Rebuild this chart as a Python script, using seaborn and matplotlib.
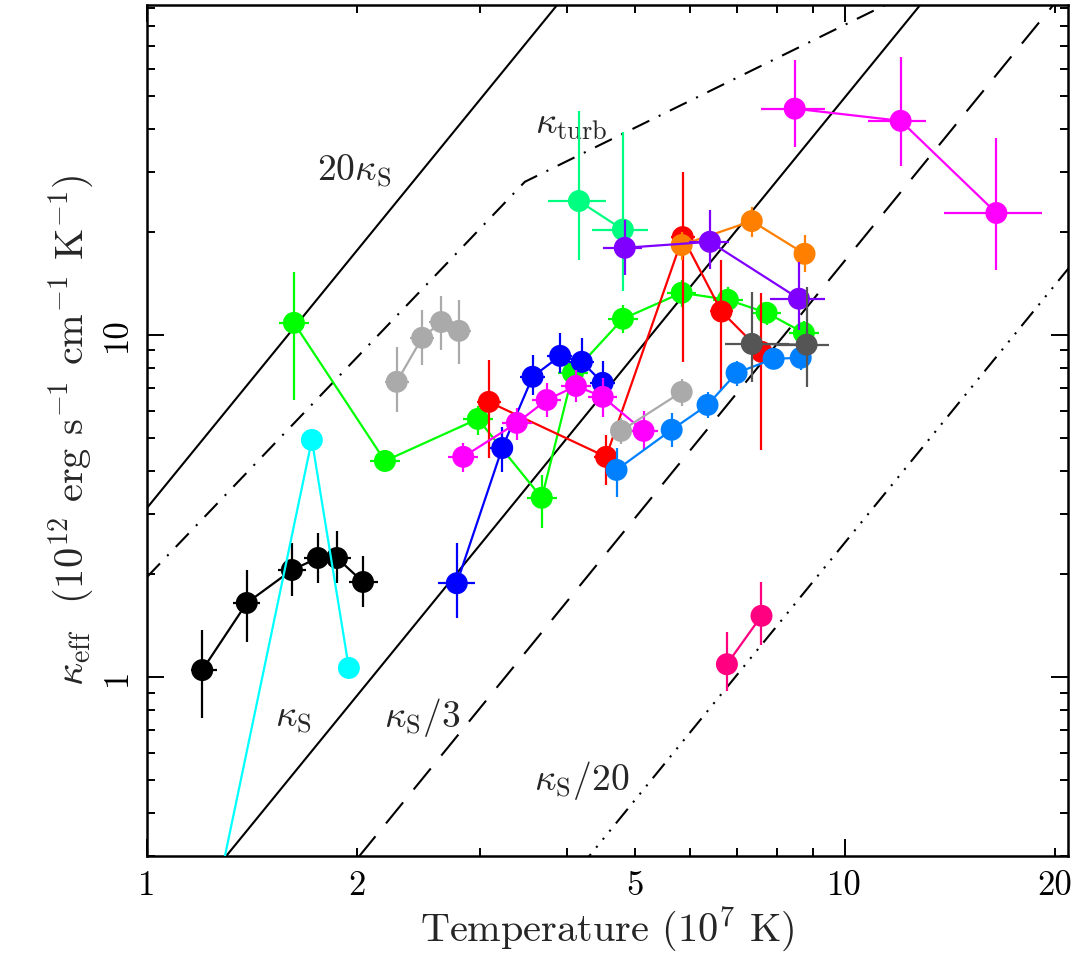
import numpy as np
import pandas as pd
import matplotlib
matplotlib.use("Agg")
import matplotlib.pyplot as plt
import matplotlib.ticker as mticker
import seaborn as sns

# ---------------- data (T in 1e7 K, kappa in 1e12 cgs) ----------------
black_T    = [1.20, 1.39, 1.613, 1.758, 1.872, 2.04]
black_Tlo  = [1.156, 1.33, 1.54, 1.68, 1.79, 1.95]
black_Thi  = [1.26, 1.45, 1.69, 1.84, 1.96, 2.14]
black_k    = [1.048, 1.646, 2.055, 2.228, 2.228, 1.896]
black_klo  = [0.759, 1.266, 1.725, 1.88, 1.88, 1.60]
black_khi  = [1.372, 2.055, 2.46, 2.64, 2.67, 2.26]

cyan_T     = [1.25, 1.723, 1.947]
cyan_k     = [0.215, 4.93, 1.063]

green_T    = [1.624, 2.193, 2.98, 3.68, 4.08, 4.81, 5.84, 6.80, 7.73, 8.74]
green_k    = [10.84, 4.28, 5.68, 3.34, 7.74, 11.14, 13.27, 12.66, 11.6, 10.13]
green_klo  = [6.45, 4.28, 5.1, 2.73, 7.2, 10.1, 12.1, 11.6, 10.7, 9.3]
green_khi  = [15.3, 4.28, 6.2, 3.9, 8.3, 12.2, 14.5, 13.8, 12.5, 11.0]

lgray_T    = [2.28, 2.48, 2.64, 2.80]
lgray_k    = [7.29, 9.80, 10.9, 10.27]
lgray_klo  = [5.96, 8.18, 9.0, 8.2]
lgray_khi  = [9.22, 11.8, 13.0, 12.6]

red_T      = [3.09, 4.55, 5.86, 6.66, 7.60]
red_k      = [6.37, 4.40, 19.3, 11.7, 8.92]
red_klo    = [4.37, 3.64, 8.33, 6.9, 4.61]
red_khi    = [8.44, 5.10, 30.0, 16.6, 13.26]

blue_T     = [2.78, 3.23, 3.57, 3.91, 4.20, 4.50]
blue_Tlo   = [2.61, 3.10, 3.42, 3.75, 4.03, 4.32]
blue_Thi   = [2.95, 3.35, 3.72, 4.07, 4.37, 4.68]
blue_k     = [1.88, 4.67, 7.54, 8.68, 8.34, 7.24]
blue_klo   = [1.49, 3.98, 6.68, 7.75, 7.75, 6.2]
blue_khi   = [2.47, 5.38, 8.74, 10.1, 9.8, 8.4]

mag_T      = [2.84, 3.39, 3.74, 4.12, 4.50, 5.15]
mag_k      = [4.40, 5.53, 6.45, 7.09, 6.59, 5.24]
mag_klo    = [3.97, 4.93, 5.75, 6.36, 5.75, 4.6]
mag_khi    = [4.83, 6.13, 7.24, 7.9, 7.5, 6.0]

azure_T    = [4.71, 5.65, 6.36, 7.00, 7.91, 8.65]
azure_k    = [4.03, 5.28, 6.24, 7.74, 8.51, 8.57]
azure_klo  = [3.36, 4.70, 5.7, 7.1, 8.0, 7.9]
azure_khi  = [4.67, 5.92, 6.8, 8.4, 9.0, 9.3]

gray2_T    = [4.78, 5.84]
gray2_k    = [5.24, 6.81]
gray2_klo  = [4.8, 6.2]
gray2_khi  = [5.7, 7.45]

sgreen_T   = [4.16, 4.81]
sgreen_Tlo = [3.76, 4.34]
sgreen_Thi = [4.55, 5.22]
sgreen_k   = [24.6, 20.3]
sgreen_klo = [16.6, 13.4]
sgreen_khi = [45.2, 39.2]

orange_T   = [5.84, 7.36, 8.76]
orange_k   = [18.3, 21.5, 17.25]
orange_klo = [16.5, 19.3, 15.3]
orange_khi = [20.0, 23.6, 19.6]

violet_T   = [4.84, 6.41, 8.60]
violet_Tlo = [4.50, 5.99, 7.82]
violet_Thi = [5.12, 6.83, 9.37]
violet_k   = [17.96, 18.7, 12.75]
violet_klo = [15.0, 15.6, 10.35]
violet_khi = [21.7, 23.2, 16.35]

dgray_T    = [7.36, 8.82]
dgray_Tlo  = [6.74, 7.98]
dgray_Thi  = [8.33, 9.51]
dgray_k    = [9.41, 9.36]
dgray_klo  = [7.29, 7.05]
dgray_khi  = [13.3, 13.8]

magup_T    = [8.48, 12.03, 16.5]
magup_Tlo  = [7.60, 10.8, 13.9]
magup_Thi  = [9.37, 13.1, 19.2]
magup_k    = [45.8, 42.2, 22.7]
magup_klo  = [35.5, 31.2, 15.5]
magup_khi  = [63.7, 65.0, 37.6]

pink_T     = [6.78, 7.60]
pink_k     = [1.09, 1.51]
pink_klo   = [0.91, 1.24]
pink_khi   = [1.354, 1.90]

# reference conductivities
kappa_S_norm = 0.156          # kappa_S at T = 1e7 K
kappa_S_index = 2.5
turb_T = [1.0, 3.48, 21.0]
turb_k = [1.96, 28.0, 169.0]

x_tick_labels = {1: "1", 2: "2", 5: "5", 10: "10", 20: "20"}
y_tick_labels = {1: "1", 10: "10"}

# ---------------- style ----------------
sns.set_theme(style="ticks")
plt.rcParams["font.family"] = ["cmr10", "DejaVu Serif"]
plt.rcParams["mathtext.fontset"] = "cm"
plt.rcParams["axes.formatter.use_mathtext"] = True
plt.rcParams["axes.unicode_minus"] = False

fig = plt.figure(figsize=(10.77, 9.58), dpi=100)
ax = fig.add_axes([147/1077, 1-856/958, (1068-147)/1077, (856-5)/958])
ax.set_xscale("log")
ax.set_yscale("log")
ax.set_xlim(1.0, 20.9)
ax.set_ylim(0.3, 92)

# reference lines
Tgrid = np.logspace(0, np.log10(21), 200)
kS = kappa_S_norm * Tgrid**kappa_S_index
lw_ref = 1.5
sns.lineplot(x=Tgrid, y=20*kS, color="black", lw=lw_ref, ax=ax)
sns.lineplot(x=Tgrid, y=kS, color="black", lw=lw_ref, ax=ax)
l3 = sns.lineplot(x=Tgrid, y=kS/3, color="black", lw=lw_ref, ax=ax).lines[-1]
l3.set_dashes([13, 8])
l20 = sns.lineplot(x=Tgrid, y=kS/20, color="black", lw=lw_ref, ax=ax).lines[-1]
l20.set_dashes([9, 4, 1, 4, 1, 4, 1, 4])
lt = sns.lineplot(x=turb_T, y=turb_k, color="black", lw=lw_ref, ax=ax).lines[-1]
lt.set_dashes([9, 5, 1, 5])

def bounds(v, lo, hi):
    v = np.asarray(v, float)
    return np.vstack([v - np.asarray(lo, float), np.asarray(hi, float) - v])

def series(T, k, color, Tlo=None, Thi=None, klo=None, khi=None, tfrac=0.05, z=3):
    T = np.asarray(T, float)
    if Tlo is None:
        Tlo = T / (1 + tfrac)
        Thi = T * (1 + tfrac)
    if klo is None:
        klo = k
        khi = k
    ax.errorbar(T, k, xerr=bounds(T, Tlo, Thi), yerr=bounds(k, klo, khi),
                fmt="none", ecolor=color, elinewidth=1.6, capsize=0, zorder=z)
    sns.lineplot(x=T, y=k, color=color, lw=1.6, sort=False, estimator=None,
                 ax=ax, zorder=z)
    sns.scatterplot(x=T, y=k, color=color, s=250, edgecolor="none",
                    linewidth=0, ax=ax, zorder=z + 0.5)

series(black_T, black_k, "black", black_Tlo, black_Thi, black_klo, black_khi, z=3)
series(cyan_T, cyan_k, "#00ffff", tfrac=0.0, z=4)
series(green_T, green_k, "#00ff00", klo=green_klo, khi=green_khi, z=5)
series(lgray_T, lgray_k, "#aaaaaa", klo=lgray_klo, khi=lgray_khi, tfrac=0.04, z=6)
series(red_T, red_k, "#ff0000", klo=red_klo, khi=red_khi, tfrac=0.04, z=7)
series(blue_T, blue_k, "#0000ff", blue_Tlo, blue_Thi, blue_klo, blue_khi, z=8)
series(mag_T, mag_k, "#ff00ff", klo=mag_klo, khi=mag_khi, z=9)
series(azure_T, azure_k, "#0080ff", klo=azure_klo, khi=azure_khi, tfrac=0.03, z=10)
series(gray2_T, gray2_k, "#aaaaaa", klo=gray2_klo, khi=gray2_khi, tfrac=0.03, z=11)
series(sgreen_T, sgreen_k, "#00ff80", sgreen_Tlo, sgreen_Thi, sgreen_klo, sgreen_khi, z=12)
series(orange_T, orange_k, "#ff8000", klo=orange_klo, khi=orange_khi, tfrac=0.03, z=13)
series(violet_T, violet_k, "#8000ff", violet_Tlo, violet_Thi, violet_klo, violet_khi, z=14)
series(dgray_T, dgray_k, "#555555", dgray_Tlo, dgray_Thi, dgray_klo, dgray_khi, z=15)
series(magup_T, magup_k, "#ff00ff", magup_Tlo, magup_Thi, magup_klo, magup_khi, z=16)
series(pink_T, pink_k, "#ff0080", klo=pink_klo, khi=pink_khi, tfrac=0.035, z=17)

# labels on reference lines
fs_lab = 27
ax.text(1.98, 30.0, r"$20\kappa_{\rm S}$", fontsize=fs_lab, ha="center", va="center")
ax.text(4.05, 41.0, r"$\kappa_{\rm turb}$", fontsize=fs_lab, ha="center", va="center")
ax.text(1.62, 0.75, r"$\kappa_{\rm S}$", fontsize=fs_lab, ha="center", va="center")
ax.text(2.48, 0.76, r"$\kappa_{\rm S}/3$", fontsize=fs_lab, ha="center", va="center")
ax.text(4.2, 0.50, r"$\kappa_{\rm S}/20$", fontsize=fs_lab, ha="center", va="center")

# axes styling
for s in ax.spines.values():
    s.set_linewidth(1.8)
    s.set_color("black")
ax.tick_params(which="both", direction="in", top=True, right=True,
               colors="black", labelsize=25, width=1.4)
ax.tick_params(which="major", length=12, pad=10)
ax.tick_params(which="minor", length=6, pad=10)

ax.xaxis.set_major_locator(mticker.FixedLocator([1, 10]))
ax.xaxis.set_minor_locator(mticker.FixedLocator([2, 3, 4, 5, 6, 7, 8, 9, 20]))
fmt_x = mticker.FuncFormatter(lambda v, p: x_tick_labels.get(int(round(v)), ""))
ax.xaxis.set_major_formatter(fmt_x)
ax.xaxis.set_minor_formatter(fmt_x)
ax.yaxis.set_major_locator(mticker.FixedLocator([1, 10]))
ax.yaxis.set_minor_locator(mticker.FixedLocator(
    [0.3, 0.4, 0.5, 0.6, 0.7, 0.8, 0.9, 2, 3, 4, 5, 6, 7, 8, 9, 20, 30, 40, 50, 60, 70, 80, 90]))
ax.yaxis.set_major_formatter(mticker.FuncFormatter(
    lambda v, p: y_tick_labels.get(int(round(v)), "")))
ax.yaxis.set_minor_formatter(mticker.NullFormatter())
for lab in ax.get_yticklabels():
    lab.set_rotation(90)
    lab.set_va("center")

ax.set_xlabel(r"Temperature (10$^{7}$ K)", fontsize=29, labelpad=2)
ax.set_ylabel(r"$\kappa_{\rm eff}$  (10$^{12}$ erg s$^{-1}$ cm$^{-1}$ K$^{-1}$)",
              fontsize=29, labelpad=4)

fig.savefig("out.png", dpi=100)
